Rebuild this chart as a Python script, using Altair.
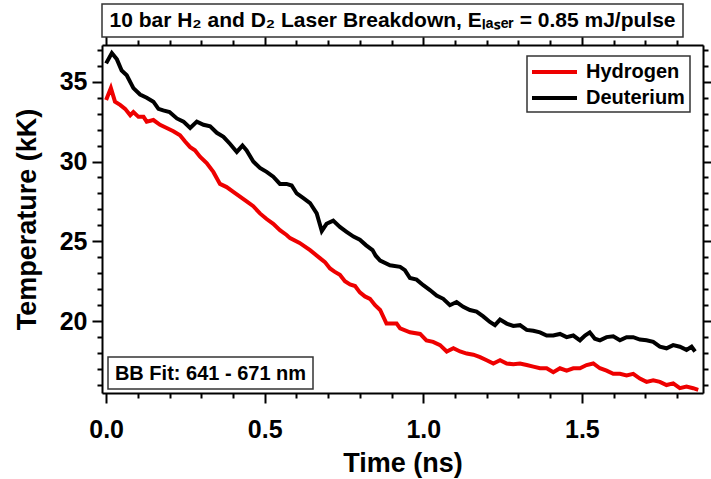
import altair as alt
import pandas as pd

# ---- data ----
t_d2 = [0.000, 0.018, 0.034, 0.049, 0.065, 0.086, 0.107, 0.128, 0.149, 0.165,
        0.180, 0.200, 0.223, 0.244, 0.265, 0.286, 0.307, 0.328, 0.349, 0.370,
        0.391, 0.412, 0.430, 0.443, 0.464, 0.485, 0.506, 0.527, 0.548, 0.569,
        0.585, 0.601, 0.622, 0.643, 0.664, 0.680, 0.695, 0.716, 0.737, 0.758,
        0.780, 0.800, 0.820, 0.840, 0.850, 0.864, 0.895, 0.927, 0.942, 0.958,
        0.979, 1.000, 1.021, 1.042, 1.063, 1.084, 1.105, 1.126, 1.147, 1.168,
        1.189, 1.210, 1.226, 1.242, 1.263, 1.284, 1.305, 1.326, 1.347, 1.368,
        1.389, 1.410, 1.431, 1.452, 1.473, 1.494, 1.510, 1.525, 1.541, 1.557,
        1.578, 1.599, 1.620, 1.641, 1.662, 1.683, 1.704, 1.725, 1.746, 1.767,
        1.788, 1.809, 1.830, 1.846, 1.857]
T_d2 = [36.15, 36.8, 36.4, 35.7, 35.4, 34.6, 34.2, 34.0, 33.75, 33.3,
        33.2, 33.1, 32.7, 32.5, 32.1, 32.5, 32.3, 32.2, 31.8, 31.55,
        31.1, 30.6, 31.0, 30.7, 30.0, 29.6, 29.35, 29.05, 28.6, 28.6,
        28.5, 28.0, 27.7, 27.4, 26.75, 25.65, 26.1, 26.3, 25.9, 25.6,
        25.3, 25.1, 24.75, 24.45, 24.1, 23.8, 23.5, 23.4, 23.2, 22.7,
        22.6, 22.25, 21.95, 21.6, 21.4, 21.0, 21.2, 20.9, 20.7, 20.6,
        20.3, 19.95, 19.75, 20.1, 19.85, 19.7, 19.75, 19.45, 19.4, 19.3,
        19.1, 19.1, 19.2, 19.0, 19.1, 18.8, 19.1, 19.3, 18.9, 18.8,
        19.0, 19.05, 18.8, 19.0, 19.0, 18.85, 18.8, 18.7, 18.4, 18.3,
        18.5, 18.4, 18.2, 18.4, 18.1]

t_h2 = [0.000, 0.015, 0.028, 0.044, 0.060, 0.076, 0.086, 0.102, 0.118, 0.128,
        0.149, 0.170, 0.191, 0.212, 0.233, 0.249, 0.265, 0.280, 0.296, 0.317,
        0.338, 0.359, 0.380, 0.401, 0.422, 0.443, 0.464, 0.485, 0.506, 0.527,
        0.548, 0.569, 0.580, 0.610, 0.643, 0.674, 0.690, 0.706, 0.720, 0.737,
        0.753, 0.769, 0.785, 0.800, 0.816, 0.832, 0.848, 0.864, 0.884, 0.916,
        0.927, 0.958, 0.990, 1.010, 1.031, 1.053, 1.074, 1.095, 1.116, 1.137,
        1.158, 1.179, 1.200, 1.221, 1.242, 1.263, 1.284, 1.305, 1.326, 1.347,
        1.368, 1.389, 1.410, 1.431, 1.452, 1.473, 1.494, 1.515, 1.536, 1.557,
        1.578, 1.599, 1.620, 1.641, 1.662, 1.683, 1.704, 1.725, 1.746, 1.767,
        1.788, 1.809, 1.830, 1.851, 1.867]
T_h2 = [33.85, 34.6, 33.75, 33.55, 33.3, 32.9, 33.1, 32.8, 32.8, 32.5,
        32.6, 32.3, 32.1, 31.9, 31.65, 31.25, 30.9, 30.7, 30.3, 29.9,
        29.35, 28.6, 28.4, 28.1, 27.8, 27.5, 27.2, 26.75, 26.4, 26.1,
        25.7, 25.4, 25.2, 24.9, 24.45, 23.95, 23.7, 23.3, 23.1, 22.9,
        22.5, 22.3, 22.2, 21.8, 21.55, 21.4, 21.0, 20.7, 19.85, 19.85,
        19.55, 19.3, 19.2, 18.8, 18.7, 18.5, 18.1, 18.3, 18.1, 17.97,
        17.9, 17.75, 17.55, 17.35, 17.55, 17.35, 17.3, 17.35, 17.25, 17.15,
        17.05, 17.05, 16.8, 17.05, 16.9, 17.05, 17.05, 17.25, 17.35, 17.05,
        16.9, 16.7, 16.7, 16.6, 16.7, 16.4, 16.2, 16.3, 16.2, 16.0,
        16.1, 15.8, 15.9, 15.8, 15.7]

series_names = ["Hydrogen", "Deuterium"]
series_colors = ["#ee0000", "#000000"]

x_ticks = [0.0, 0.1, 0.2, 0.3, 0.4, 0.5, 0.6, 0.7, 0.8, 0.9,
           1.0, 1.1, 1.2, 1.3, 1.4, 1.5, 1.6, 1.7, 1.8]
y_ticks = [16, 17, 18, 19, 20, 21, 22, 23, 24, 25, 26, 27, 28, 29, 30,
           31, 32, 33, 34, 35, 36, 37]
x_domain = [-0.013, 1.882]
y_domain = [15.5, 37.3]

title_text = "10 bar H\u2082 and D\u2082 Laser Breakdown, E\u2097\u2090\u209b\u2091\u1d63 = 0.85 mJ/pulse"
fit_text = "BB Fit: 641 - 671 nm"

# ---- table ----
df = pd.concat([
    pd.DataFrame({"series": series_names[0], "t": t_h2, "T": T_h2, "order": range(len(t_h2))}),
    pd.DataFrame({"series": series_names[1], "t": t_d2, "T": T_d2, "order": range(len(t_d2))}),
], ignore_index=True)

FONT = "Liberation Sans"
W, H = 601, 348

x_major = "abs(datum.value*2 - round(datum.value*2)) < 1e-6"
y_major = "datum.value % 5 === 0"

x_scale = alt.Scale(domain=x_domain, nice=False, zero=False)
y_scale = alt.Scale(domain=y_domain, nice=False, zero=False)

common_axis = dict(grid=False, domainColor="black", domainWidth=2, tickColor="black",
                   tickWidth=2, labelFont=FONT, labelFontWeight="bold", labelFontSize=25,
                   labelColor="black", titleFont=FONT, titleFontWeight="bold",
                   titleFontSize=27, titleColor="black", labelFlush=False, labelOverlap=False)

x_axis_bottom = alt.Axis(orient="bottom", values=x_ticks, title="Time (ns)",
                         tickSize={"condition": {"test": x_major, "value": 10}, "value": 5},
                         labelExpr=f"({x_major}) ? format(datum.value, '.1f') : ''",
                         labelPadding=14, titlePadding=8, **common_axis)
y_axis_left = alt.Axis(orient="left", values=y_ticks, title="Temperature (kK)",
                       tickSize={"condition": {"test": y_major, "value": 10}, "value": 5},
                       labelExpr=f"({y_major}) ? format(datum.value, 'd') : ''",
                       labelPadding=5, titlePadding=18, **common_axis)
x_axis_top = alt.Axis(orient="top", values=x_ticks, title=None, labels=False,
                      tickSize={"condition": {"test": x_major, "value": 10}, "value": 5},
                      **common_axis)
y_axis_right = alt.Axis(orient="right", values=y_ticks, title=None, labels=False,
                        tickSize={"condition": {"test": y_major, "value": 10}, "value": 5},
                        **common_axis)

lines = alt.Chart(df).mark_line(strokeWidth=4, clip=True).encode(
    x=alt.X("t:Q", scale=x_scale, axis=x_axis_bottom),
    y=alt.Y("T:Q", scale=y_scale, axis=y_axis_left),
    color=alt.Color("series:N",
                    scale=alt.Scale(domain=series_names, range=series_colors),
                    legend=None),
    order="order:Q",
)

frame = alt.Chart(df).mark_point(opacity=0).encode(
    x=alt.X("t:Q", scale=x_scale, axis=x_axis_top),
    y=alt.Y("T:Q", scale=y_scale, axis=y_axis_right),
)

one = pd.DataFrame({"k": [0]})


def box(x0, x1, y0, y1):
    return alt.Chart(one).mark_rect(fill="white", stroke="#333333", strokeWidth=1.5).encode(
        x=alt.value(x0), x2=alt.value(x1), y=alt.value(y0), y2=alt.value(y1))


def label(x, y, text, size, align="center"):
    return alt.Chart(one).mark_text(font=FONT, fontSize=size, fontWeight="bold", color="black",
                                    align=align, baseline="middle").encode(
        x=alt.value(x), y=alt.value(y), text=alt.value(text))


def swatch(y, color):
    return alt.Chart(one).mark_rule(color=color, strokeWidth=4).encode(
        x=alt.value(430), x2=alt.value(475), y=alt.value(y))


title_box = box(0, 581, -41, -8)
title_lbl = label(290.5, -24, title_text, 21)

fit_box = box(6, 211, 312, 344)
fit_lbl = label(108.5, 328.5, fit_text, 20)

leg_box = box(425, 588, 11, 67)
leg_items = [swatch(27, series_colors[0]), label(484, 27, series_names[0], 20, "left"),
             swatch(53, series_colors[1]), label(484, 53, series_names[1], 20, "left")]

chart = alt.layer(lines, frame, fit_box, fit_lbl, title_box, title_lbl, leg_box,
                  *leg_items).resolve_axis(
    x="independent", y="independent"
).properties(
    width=W, height=H,
    autosize=alt.AutoSizeParams(type="none"),
    padding={"left": 102, "top": 45, "right": 8, "bottom": 86},
).configure_view(stroke="transparent").configure(background="white")

chart.save("out.html", embed_options={"renderer": "svg", "actions": False})
